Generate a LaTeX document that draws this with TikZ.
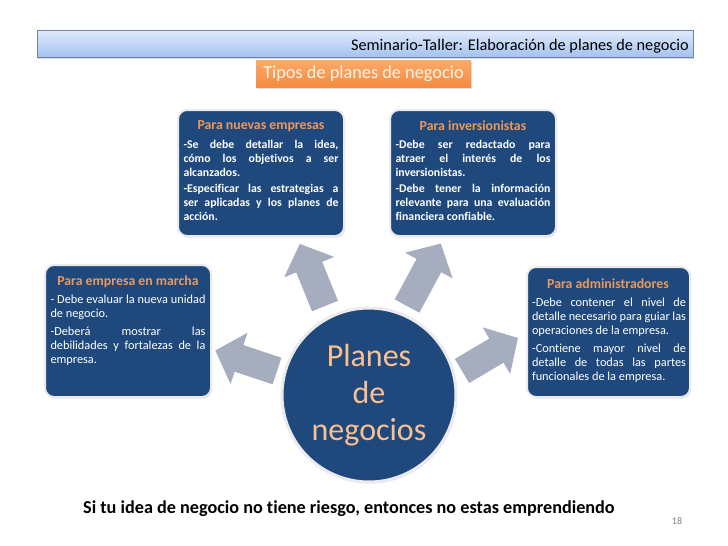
\documentclass[tikz,border=0pt]{standalone}
\usepackage{fontspec}
\setmainfont{Carlito}[Ligatures=NoCommon]
\usetikzlibrary{shadows}
\definecolor{dblue}{RGB}{31,73,125}
\definecolor{boxedge}{RGB}{235,235,238}
\definecolor{titleor}{RGB}{236,152,92}
\definecolor{peach}{RGB}{250,192,144}
\definecolor{arrowc}{RGB}{166,173,191}
\definecolor{hdrtop}{RGB}{224,234,252}
\definecolor{hdrbot}{RGB}{164,195,240}
\definecolor{hdredge}{RGB}{110,130,165}
\definecolor{ortop}{RGB}{250,170,105}
\definecolor{orbot}{RGB}{245,140,65}
\tikzset{
  bluebox/.style={rectangle, rounded corners=9pt, fill=dblue, draw=boxedge, line width=2pt,
    drop shadow={shadow xshift=1pt, shadow yshift=-1.5pt, opacity=0.25}},
  boxtitle/.style={font=\fontsize{13.8}{16}\selectfont\bfseries, text=titleor, inner sep=0pt},
  boldbody/.style={text=white, text width=155pt, align=justify, inner sep=0pt, anchor=north,
    font=\fontsize{11.8}{13.8}\selectfont\bfseries},
  plainbody/.style={text=white, text width=155pt, align=justify, inner sep=0pt, anchor=north,
    font=\fontsize{12.3}{14}\selectfont},
  blockarrow/.style={fill=arrowc, draw=none}
}
\newcommand{\myarrow}[4]{%
  \begin{scope}[shift={(#1,#2)}, rotate=#3]
    \fill[blockarrow] (0,-14) -- (#4-25,-14) -- (#4-25,-27) -- (#4,0) -- (#4-25,27) -- (#4-25,14) -- (0,14) -- cycle;
  \end{scope}}
\begin{document}
\begin{tikzpicture}[x=1pt,y=-1pt]
\useasboundingbox[fill=white] (0,0) rectangle (728,546);

% header
\node[rectangle, minimum width=656pt, minimum height=27pt, top color=hdrtop, bottom color=hdrbot,
  draw=hdredge, line width=0.6pt, drop shadow={shadow xshift=1pt, shadow yshift=-1.5pt, opacity=0.3}] (hdr) at (365,43.5) {};
\node[anchor=east, font=\fontsize{16.3}{18}\selectfont, inner sep=0pt] (hdrtxt) at (689,46) {Seminario-Taller: Elaboración de planes de negocio};

% orange subtitle
\node[rectangle, minimum width=215pt, minimum height=27pt, top color=ortop, bottom color=orbot, draw=none,
  drop shadow={shadow xshift=1pt, shadow yshift=-1.5pt, opacity=0.25},
  text=white!92!orange, font=\fontsize{18.3}{20}\selectfont] (tipos) at (363.5,73.5) {Tipos de planes de negocio};

% arrows
\myarrow{325}{306}{112.1}{67}
\myarrow{407}{306}{61.6}{71}
\myarrow{277}{371}{161.6}{65}
\myarrow{462}{371}{30.6}{65}

% boxes
\node[bluebox, minimum width=166pt, minimum height=126pt] (b1) at (261,173) {};
\node[bluebox, minimum width=166pt, minimum height=126pt] (b2) at (473,173) {};
\node[bluebox, minimum width=166pt, minimum height=132pt] (b3) at (128,331) {};
\node[bluebox, minimum width=163pt, minimum height=130pt] (b4) at (608.5,332) {};

\node[boxtitle] (t1) at (261,126) {Para nuevas empresas};
\node[boxtitle] (t2) at (473,126) {Para inversionistas};
\node[boxtitle] (t3) at (128,282) {Para empresa en marcha};
\node[boxtitle] (t4) at (608,284) {Para administradores};

\node[boldbody] (x1) at (261,140) {-Se debe detallar la idea,\linebreak cómo los objetivos a ser\linebreak alcanzados.\par\vspace{3pt}-Especificar las estrategias a\linebreak ser aplicadas y los planes de\linebreak acción.};
\node[boldbody] (x2) at (473,140) {-Debe ser redactado para\linebreak atraer el interés de los\linebreak inversionistas.\par\vspace{3pt}-Debe tener la información\linebreak relevante para una evaluación\linebreak financiera confiable.};
\node[plainbody] (x3) at (128,294.5) {- Debe evaluar la nueva unidad\linebreak de negocio.\par\vspace{4pt}-Deberá mostrar las\linebreak debilidades y fortalezas de la\linebreak empresa.};
\node[plainbody, text width=154pt] (x4) at (609,298) {-Debe contener el nivel de\linebreak detalle necesario para guiar las\linebreak operaciones de la empresa.\par\vspace{3.5pt}-Contiene mayor nivel de\linebreak detalle de todas las partes\linebreak funcionales de la empresa.};

% central circle
\node[circle, minimum size=174pt, fill=dblue, draw=boxedge, line width=3pt,
  drop shadow={shadow xshift=1pt, shadow yshift=-1.5pt, opacity=0.25},
  text=peach, align=center, font=\fontsize{32}{37}\selectfont] (c) at (369,395) {Planes\\de\\negocios};

% footer
\node[anchor=west, inner sep=0pt, font=\fontsize{18.2}{20}\selectfont\bfseries] (foot) at (83,509) {Si tu idea de negocio no tiene riesgo, entonces no estas emprendiendo};
\node[text=gray, font=\fontsize{10}{12}\selectfont, inner sep=0pt] (num) at (677,521) {18};
\end{tikzpicture}
\end{document}
